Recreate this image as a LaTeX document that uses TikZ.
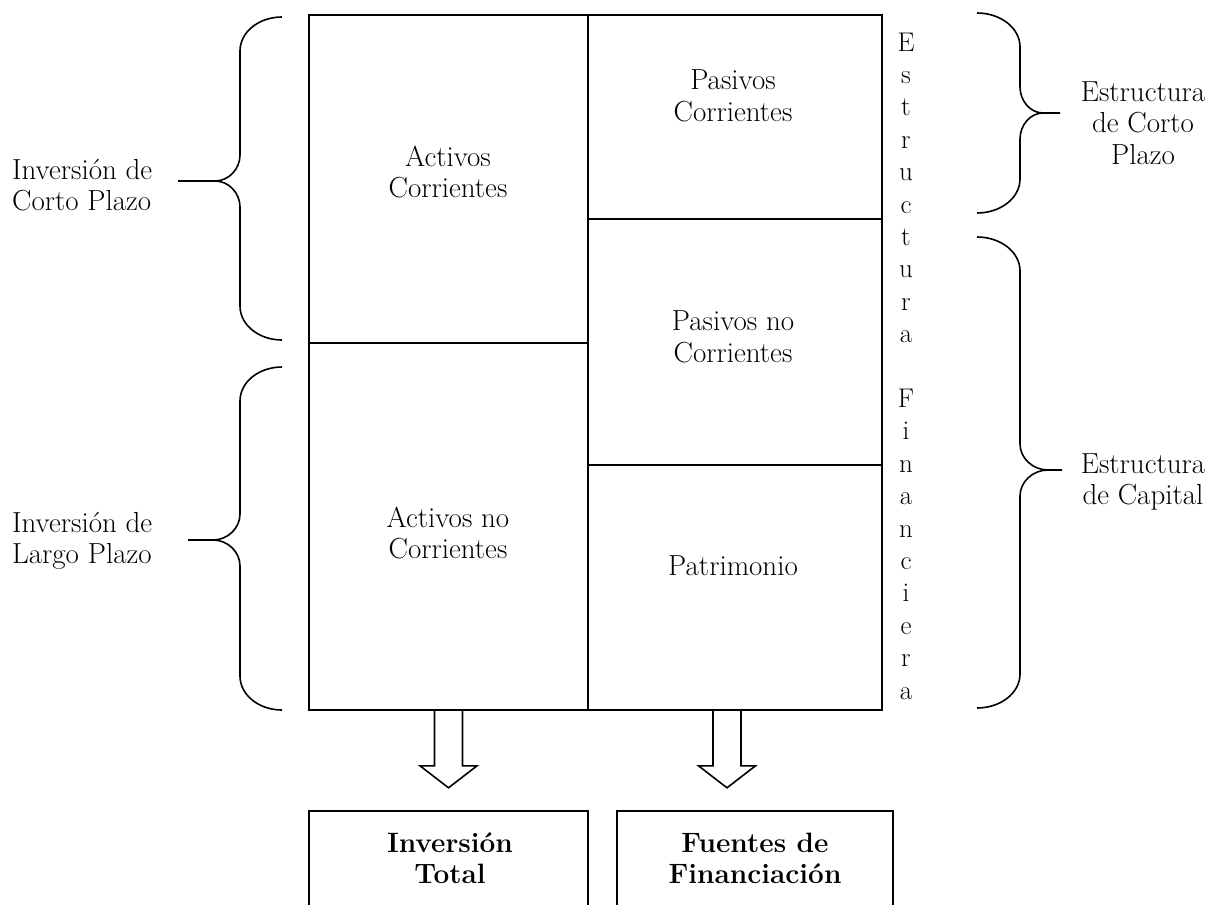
\documentclass[tikz,border=0pt]{standalone}
\usepackage{fontspec}
\usetikzlibrary{positioning}

% llave: punta, lomo, pico, fin de raya, y arriba, y medio, y abajo
\newcommand{\llave}[7]{%
  \draw (#1,#5) .. controls ({#1+0.55*(#2-#1)},#5) and (#2,{#5+15}) .. (#2,{#5+34})
    -- (#2,{#6-26}) .. controls (#2,{#6-12}) and ({#2+0.45*(#3-#2)},#6) .. (#3,#6) -- (#4,#6)
    (#3,#6) .. controls ({#2+0.45*(#3-#2)},#6) and (#2,{#6+12}) .. (#2,{#6+26})
    -- (#2,{#7-34}) .. controls (#2,{#7-15}) and ({#1+0.55*(#2-#1)},#7) .. (#1,#7);}

\begin{document}
\begin{tikzpicture}[x=1pt, y=-1pt, line width=1.6pt,
  texto/.style={font=\fontsize{29}{31.5}\selectfont, align=center},
  negrita/.style={font=\fontsize{28}{31}\selectfont\bfseries\addfontfeatures{LetterSpace=6}, align=center},
  celda/.style={draw, inner sep=0pt}]
\useasboundingbox (0,0) rectangle (1214,904);

% balance
\node[celda, minimum width=279pt, minimum height=328pt] (AC) at (448.5,179) {};
\node[celda, minimum width=279pt, minimum height=367pt] (ANC) at (448.5,526.5) {};
\node[celda, minimum width=294pt, minimum height=204pt] (PC) at (735,117) {};
\node[celda, minimum width=294pt, minimum height=246pt] (PNC) at (735,342) {};
\node[celda, minimum width=294pt, minimum height=245pt] (PAT) at (735,587.5) {};

\node[texto] (tAC) at (448,172) {Activos\\Corrientes};
\node[texto] (tANC) at (448,533) {Activos no\\Corrientes};
\node[texto] (tPC) at (733,96) {Pasivos\\Corrientes};
\node[texto] (tPNC) at (733,337) {Pasivos no\\Corrientes};
\node[texto] (tPAT) at (733,566) {Patrimonio};

\node[texto, font=\fontsize{27}{32.4}\selectfont] (EF) at (906,366)
  {E\\s\\t\\r\\u\\c\\t\\u\\r\\a\\[32.4pt]F\\i\\n\\a\\n\\c\\i\\e\\r\\a};

% llaves
\node[texto, align=left, anchor=west] (ICP) at (8,185) {Inversión de\\Corto Plazo};
\node[texto, align=left, anchor=west] (ILP) at (8,541) {Inversión de\\Largo Plazo};
\node[texto] (ECP) at (1143,123) {Estructura\\de Corto\\Plazo};
\node[texto] (ECA) at (1143,482) {Estructura\\de Capital};

\llave{282}{240}{215}{178}{17}{181}{340}
\llave{282}{240}{213}{188}{367}{540}{710}
\llave{977}{1020}{1043}{1060}{13}{113}{213}
\llave{977}{1020}{1048}{1062}{237}{470}{708}

% flechas
\draw (ANC.south) ++(-14,0) -- ++(0,55) -- ++(-14.5,0) -- ++(28.5,22)
  -- ++(28.5,-22) -- ++(-14.5,0) -- ++(0,-55);
\draw (PAT.south) ++(-22,0) -- ++(0,55) -- ++(-14.5,0) -- ++(28.5,22)
  -- ++(28.5,-22) -- ++(-14.5,0) -- ++(0,-55);

\begin{scope}
\clip (0,0) rectangle (1214,904);
\node[celda, minimum width=279pt, minimum height=140pt] (IT) at (448.5,881) {};
\node[celda, minimum width=276pt, minimum height=140pt] (FF) at (755,881) {};
\end{scope}
\node[negrita] (tIT) at (450,858) {Inversión\\Total};
\node[negrita] (tFF) at (755,858) {Fuentes de\\Financiación};

\end{tikzpicture}
\end{document}
